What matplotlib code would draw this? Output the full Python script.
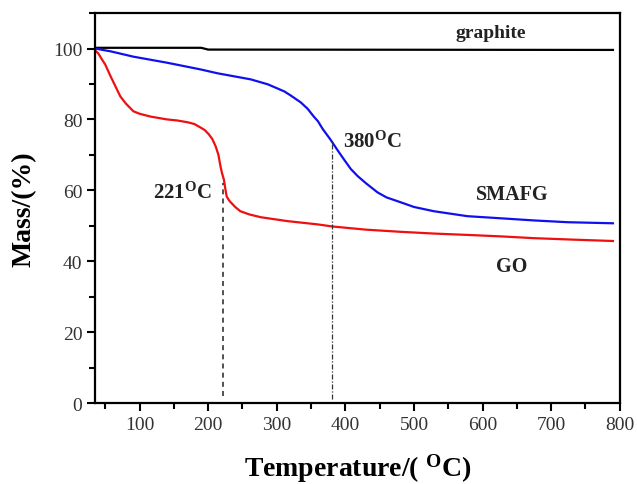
import matplotlib
matplotlib.use("Agg")
import matplotlib.pyplot as plt
from matplotlib.ticker import MultipleLocator

# ---- data ----
graphite_T = [35, 190, 200, 790]
graphite_m = [100.2, 100.2, 99.7, 99.6]

go_T = [35, 40, 45, 50, 58, 65, 72, 80, 91, 100, 116, 125, 140, 155, 170, 180, 189,
        195, 201, 206, 211, 215, 218, 220, 223, 225, 227, 230, 233, 240, 247, 260,
        277, 316, 359, 381, 430, 480, 529, 580, 627, 675, 730, 790]
go_m = [99.5, 98.6, 97.0, 95.5, 92.1, 89.3, 86.5, 84.5, 82.3, 81.6, 80.8, 80.5, 80.0,
        79.7, 79.2, 78.7, 77.7, 77.0, 75.8, 74.5, 72.4, 70.0, 66.8, 65.0, 63.0, 60.5,
        58.3, 57.3, 56.6, 55.2, 54.1, 53.2, 52.4, 51.3, 50.4, 49.8, 48.9, 48.3, 47.8,
        47.4, 47.0, 46.5, 46.1, 45.7]

smafg_T = [35, 58, 91, 140, 189, 214, 262, 287, 311, 320, 335, 345, 354, 360, 367, 370,
           378, 388, 398, 408, 418, 430, 447, 460, 481, 500, 529, 578, 627, 675, 724,
           790]
smafg_m = [100.0, 99.2, 97.7, 96.0, 94.1, 93.0, 91.3, 89.9, 87.9, 86.8, 84.8, 83.0,
           80.8, 79.5, 77.3, 76.5, 74.4, 71.5, 68.7, 66.0, 64.0, 62.0, 59.4, 58.0,
           56.6, 55.3, 54.1, 52.7, 52.1, 51.5, 51.0, 50.7]

marks_T = [221, 380]
marks_top = [62, 74]
marks_label = [r"221$^{\mathbf{O}}$C", r"380$^{\mathbf{O}}$C"]

x_ticks = [100, 200, 300, 400, 500, 600, 700, 800]
y_ticks = [0, 20, 40, 60, 80, 100]

# ---- style ----
plt.rcParams["font.family"] = ["Liberation Serif", "DejaVu Serif"]
plt.rcParams["mathtext.fontset"] = "custom"
plt.rcParams["mathtext.rm"] = "Liberation Serif"
plt.rcParams["mathtext.bf"] = "Liberation Serif:bold"
plt.rcParams["mathtext.it"] = "Liberation Serif:italic"

fig = plt.figure(figsize=(6.37, 4.85), dpi=100)
ax = fig.add_axes([0.149, 0.167, 0.824, 0.804])

ax.plot(graphite_T, graphite_m, color="black", lw=1.6)
ax.plot(smafg_T, smafg_m, color="#1010ee", lw=1.6)
ax.plot(go_T, go_m, color="#ee1010", lw=1.6)

ax.plot([marks_T[0], marks_T[0]], [2, marks_top[0]], color="#333333", lw=1.2,
        ls=(0, (3, 2.5)))
ax.plot([marks_T[1], marks_T[1]], [1, marks_top[1]], color="#333333", lw=0.9,
        ls=(0, (4, 1.5, 1, 1.5)))

ax.set_xlim(35, 800)
ax.set_ylim(0, 110)
ax.xaxis.set_major_locator(plt.FixedLocator(x_ticks))
ax.yaxis.set_major_locator(plt.FixedLocator(y_ticks))
ax.xaxis.set_minor_locator(MultipleLocator(50))
ax.yaxis.set_minor_locator(MultipleLocator(10))

for s in ax.spines.values():
    s.set_linewidth(1.6)
ax.tick_params(which="both", direction="out", top=False, right=False,
               width=1.5, labelcolor="#333333", labelsize=14)
ax.tick_params(which="major", length=6, pad=3)
ax.tick_params(which="minor", length=4)

ax.set_xlabel(r"Temperature/( $^{\mathbf{O}}$C)", fontsize=20, fontweight="bold",
              labelpad=14)
ax.set_ylabel("Mass/(%)", fontsize=20, fontweight="bold", labelpad=12)

ax.text(612, 104.5, "graphite", fontsize=14, fontweight="bold", ha="center",
        va="center", color="#222222")
ax.text(119, 59.4, marks_label[0], fontsize=15, fontweight="bold", ha="left",
        va="center", color="#222222")
ax.text(396, 73.8, marks_label[1], fontsize=15, fontweight="bold", ha="left",
        va="center", color="#222222")
ax.text(643, 58.9, "SMAFG", fontsize=14.5, fontweight="bold", ha="center",
        va="center", color="#222222")
ax.text(642, 38.6, "GO", fontsize=14.5, fontweight="bold", ha="center",
        va="center", color="#222222")

fig.savefig("out.png", dpi=100)
